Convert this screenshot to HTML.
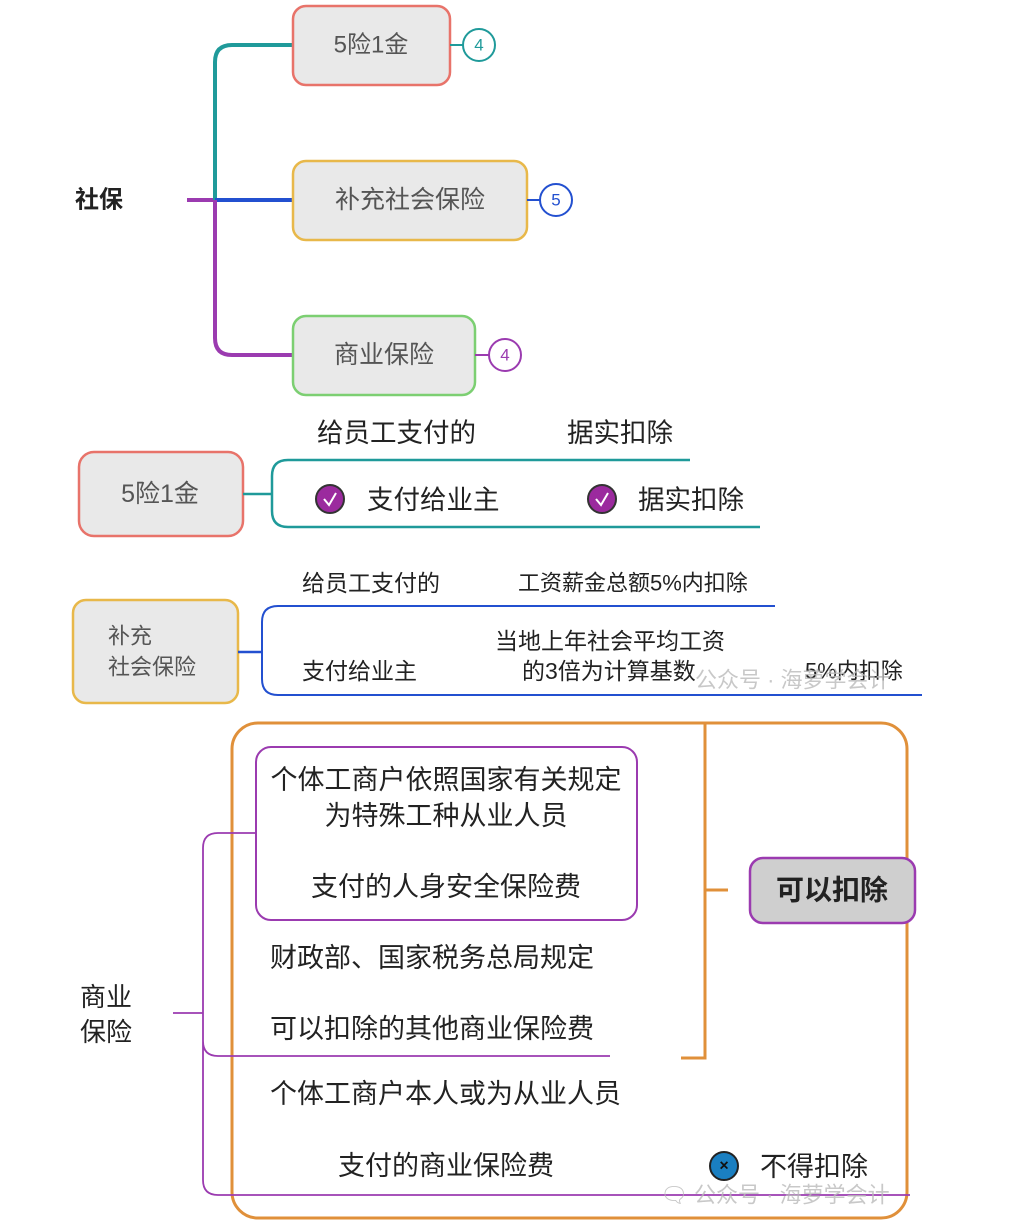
<!DOCTYPE html>
<html><head><meta charset="utf-8"><style>
html,body{margin:0;padding:0;background:#fff}
svg{display:block}
text{font-family:"Liberation Sans","Noto Sans CJK SC",sans-serif;dominant-baseline:central}
</style></head><body>
<svg width="1019" height="1225" viewBox="0 0 1019 1225" xmlns="http://www.w3.org/2000/svg">
<!-- Section 1 -->
<text x="75" y="200" font-size="24" font-weight="bold" fill="#222">社保</text>
<line x1="187" y1="200" x2="215" y2="200" stroke="#9b3bb0" stroke-width="4"/>
<path d="M293 45 H232 Q215 45 215 62 V200" fill="none" stroke="#1f9a9a" stroke-width="4"/>
<line x1="215" y1="200" x2="293" y2="200" stroke="#2350d0" stroke-width="4"/>
<path d="M215 200 V338 Q215 355 232 355 H293" fill="none" stroke="#9b3bb0" stroke-width="4"/>
<rect x="293" y="6" width="157" height="79" rx="13" fill="#e9e9e9" stroke="#e8736a" stroke-width="2.5"/>
<text x="371" y="45" font-size="24" fill="#555" text-anchor="middle">5险1金</text>
<line x1="450" y1="45" x2="463" y2="45" stroke="#1f9a9a" stroke-width="2"/>
<circle cx="479" cy="45" r="16" fill="#fff" stroke="#1f9a9a" stroke-width="2"/>
<text x="479" y="45" font-size="17" fill="#1f9a9a" text-anchor="middle">4</text>
<rect x="293" y="161" width="234" height="79" rx="13" fill="#e9e9e9" stroke="#e8b84a" stroke-width="2.5"/>
<text x="410" y="200" font-size="25" fill="#555" text-anchor="middle">补充社会保险</text>
<line x1="527" y1="200" x2="540" y2="200" stroke="#2350d0" stroke-width="2"/>
<circle cx="556" cy="200" r="16" fill="#fff" stroke="#2350d0" stroke-width="2"/>
<text x="556" y="200" font-size="17" fill="#2350d0" text-anchor="middle">5</text>
<rect x="293" y="316" width="182" height="79" rx="13" fill="#e9e9e9" stroke="#7ccf72" stroke-width="2.5"/>
<text x="384" y="355" font-size="25" fill="#555" text-anchor="middle">商业保险</text>
<line x1="475" y1="355" x2="489" y2="355" stroke="#9b3bb0" stroke-width="2"/>
<circle cx="505" cy="355" r="16" fill="#fff" stroke="#9b3bb0" stroke-width="2"/>
<text x="505" y="355" font-size="17" fill="#9b3bb0" text-anchor="middle">4</text>

<!-- Section 2 -->
<rect x="79" y="452" width="164" height="84" rx="15" fill="#e9e9e9" stroke="#e8736a" stroke-width="2.5"/>
<text x="160" y="494" font-size="25" fill="#555" text-anchor="middle">5险1金</text>
<line x1="243" y1="494" x2="272" y2="494" stroke="#1f9a9a" stroke-width="2.5"/>
<path d="M690 460 H288 Q272 460 272 476 V511 Q272 527 288 527 H760" fill="none" stroke="#1f9a9a" stroke-width="2.5"/>
<text x="317" y="433" font-size="26.5" fill="#222">给员工支付的</text>
<text x="567" y="433" font-size="26.5" fill="#222">据实扣除</text>
<circle cx="330" cy="499" r="14" fill="#9b2a9e" stroke="#333" stroke-width="2"/>
<path d="M324 499 l5 6 l7 -12" fill="none" stroke="#fff" stroke-width="2"/>
<text x="367" y="500" font-size="26.5" fill="#222">支付给业主</text>
<circle cx="602" cy="499" r="14" fill="#9b2a9e" stroke="#333" stroke-width="2"/>
<path d="M596 499 l5 6 l7 -12" fill="none" stroke="#fff" stroke-width="2"/>
<text x="638" y="500" font-size="26.5" fill="#222">据实扣除</text>

<!-- Section 3 -->
<rect x="73" y="600" width="165" height="103" rx="13" fill="#e9e9e9" stroke="#e8b84a" stroke-width="2.5"/>
<text x="108" y="636" font-size="22" fill="#555">补充</text>
<text x="108" y="667" font-size="22" fill="#555">社会保险</text>
<line x1="238" y1="652" x2="262" y2="652" stroke="#2350d0" stroke-width="2.5"/>
<path d="M775 606 H278 Q262 606 262 622 V679 Q262 695 278 695 H922" fill="none" stroke="#2350d0" stroke-width="2"/>
<text x="302" y="583" font-size="23" fill="#222">给员工支付的</text>
<text x="518" y="583" font-size="22" fill="#222">工资薪金总额5%内扣除</text>
<text x="610" y="641" font-size="23" fill="#222" text-anchor="middle">当地上年社会平均工资</text>
<text x="522" y="671" font-size="23" fill="#222">的3倍为计算基数</text>
<text x="302" y="671" font-size="23" fill="#222">支付给业主</text>
<text x="805" y="671" font-size="22" fill="#222">5%内扣除</text>
<text x="695" y="680" font-size="22" fill="#bbb" opacity="0.8">公众号 · 海萝学会计</text>

<!-- Section 4 -->
<rect x="232" y="723" width="675" height="495" rx="26" fill="none" stroke="#e0903a" stroke-width="3"/>
<path d="M705 723 V1058 H681 M705 890 H728" fill="none" stroke="#e0903a" stroke-width="3"/>
<rect x="750" y="858" width="165" height="65" rx="13" fill="#cfcfcf" stroke="#9b3bb0" stroke-width="2.5"/>
<text x="832" y="890" font-size="28" font-weight="bold" fill="#222" text-anchor="middle">可以扣除</text>
<rect x="256" y="747" width="381" height="173" rx="15" fill="none" stroke="#9b3bb0" stroke-width="2"/>
<path d="M173 1013 H203 M256 833 H218 Q203 833 203 848 V1041 Q203 1056 218 1056 H610 M203 1040 V1180 Q203 1195 218 1195 H910" fill="none" stroke="#9b3bb0" stroke-width="1.8"/>
<text x="80" y="997" font-size="26" fill="#222">商业</text>
<text x="80" y="1032" font-size="26" fill="#222">保险</text>
<text x="446" y="780" font-size="27" fill="#222" text-anchor="middle">个体工商户依照国家有关规定</text>
<text x="446" y="816" font-size="27" fill="#222" text-anchor="middle">为特殊工种从业人员</text>
<text x="446" y="887" font-size="27" fill="#222" text-anchor="middle">支付的人身安全保险费</text>
<text x="270" y="958" font-size="27" fill="#222">财政部、国家税务总局规定</text>
<text x="270" y="1029" font-size="27" fill="#222">可以扣除的其他商业保险费</text>
<text x="270" y="1094" font-size="27" fill="#222">个体工商户本人或为从业人员</text>
<text x="338" y="1166" font-size="27" fill="#222">支付的商业保险费</text>
<circle cx="724" cy="1166" r="14" fill="#1a7fc1" stroke="#222" stroke-width="2"/>
<text x="724" y="1166" font-size="16" font-weight="bold" fill="#111" text-anchor="middle">×</text>
<text x="760" y="1167" font-size="27" fill="#222">不得扣除</text>
<text x="660" y="1195" font-size="22" fill="#bbb" opacity="0.8">🗨 公众号 · 海萝学会计</text>
</svg>
</body></html>
